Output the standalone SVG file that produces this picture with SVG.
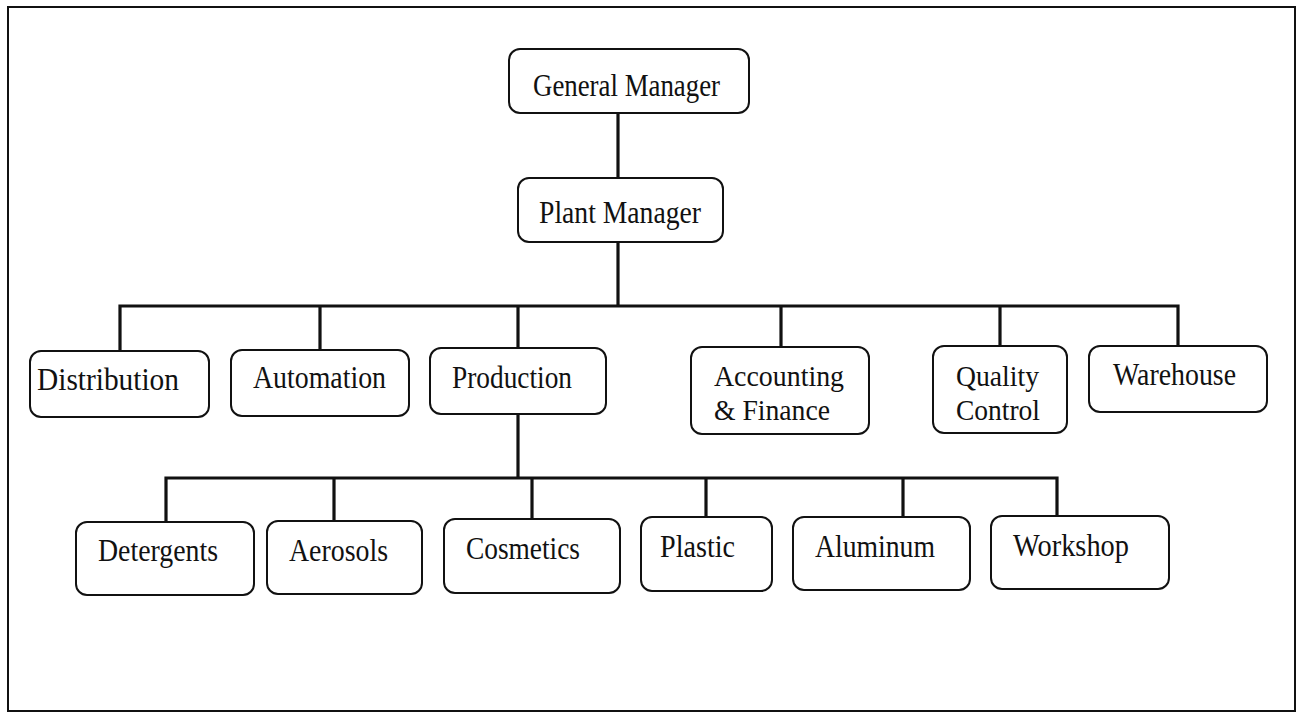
<svg xmlns="http://www.w3.org/2000/svg" width="1300" height="718" viewBox="0 0 1300 718">
<style>
.box{fill:#fff;stroke:#111;stroke-width:2}
.lbl{font-family:"Liberation Serif","Times New Roman",serif;font-size:32px;fill:#111}
.lbl2{font-family:"Liberation Serif","Times New Roman",serif;font-size:29px;fill:#111}
.con{fill:none;stroke:#111;stroke-width:3.2;stroke-linejoin:miter}
</style>
<rect x="0" y="0" width="1300" height="718" fill="#fff"/>
<rect x="8" y="7" width="1287" height="704" fill="none" stroke="#111" stroke-width="2"/>
<g id="connectors">
<path class="con" d="M618,113 V178"/>
<path class="con" d="M618,242 V306"/>
<path class="con" d="M120,351 V306 H1178 V346"/>
<path class="con" d="M320,306 V350"/>
<path class="con" d="M518,306 V348"/>
<path class="con" d="M781,306 V347"/>
<path class="con" d="M1000,306 V346"/>
<path class="con" d="M518,414 V478"/>
<path class="con" d="M166,522 V478 H1057 V516"/>
<path class="con" d="M334,478 V521"/>
<path class="con" d="M532,478 V519"/>
<path class="con" d="M706,478 V517"/>
<path class="con" d="M903,478 V517"/>
</g>
<g id="general-manager"><rect class="box" x="509" y="49" width="240" height="64" rx="11"/><text class="lbl" x="533" y="96" textLength="187" lengthAdjust="spacingAndGlyphs">General Manager</text></g>
<g id="plant-manager"><rect class="box" x="518" y="178" width="205" height="64" rx="11"/><text class="lbl" x="539" y="223" textLength="162" lengthAdjust="spacingAndGlyphs">Plant Manager</text></g>
<g id="distribution"><rect class="box" x="30" y="351" width="179" height="66" rx="11"/><text class="lbl" x="37" y="390" textLength="142" lengthAdjust="spacingAndGlyphs">Distribution</text></g>
<g id="automation"><rect class="box" x="231" y="350" width="178" height="66" rx="11"/><text class="lbl" x="253" y="388" textLength="133" lengthAdjust="spacingAndGlyphs">Automation</text></g>
<g id="production"><rect class="box" x="430" y="348" width="176" height="66" rx="11"/><text class="lbl" x="452" y="388" textLength="120" lengthAdjust="spacingAndGlyphs">Production</text></g>
<g id="accounting-finance"><rect class="box" x="691" y="347" width="178" height="87" rx="11"/><text class="lbl2" x="714" y="386" textLength="130" lengthAdjust="spacingAndGlyphs">Accounting</text><text class="lbl2" x="714" y="420" textLength="116" lengthAdjust="spacingAndGlyphs">&amp; Finance</text></g>
<g id="quality-control"><rect class="box" x="933" y="346" width="134" height="87" rx="11"/><text class="lbl2" x="956" y="386" textLength="83" lengthAdjust="spacingAndGlyphs">Quality</text><text class="lbl2" x="956" y="420" textLength="84" lengthAdjust="spacingAndGlyphs">Control</text></g>
<g id="warehouse"><rect class="box" x="1089" y="346" width="178" height="66" rx="11"/><text class="lbl" x="1113" y="385" textLength="123" lengthAdjust="spacingAndGlyphs">Warehouse</text></g>
<g id="detergents"><rect class="box" x="76" y="522" width="178" height="73" rx="11"/><text class="lbl" x="98" y="561" textLength="120" lengthAdjust="spacingAndGlyphs">Detergents</text></g>
<g id="aerosols"><rect class="box" x="267" y="521" width="155" height="73" rx="11"/><text class="lbl" x="289" y="561" textLength="99" lengthAdjust="spacingAndGlyphs">Aerosols</text></g>
<g id="cosmetics"><rect class="box" x="444" y="519" width="176" height="74" rx="11"/><text class="lbl" x="466" y="559" textLength="114" lengthAdjust="spacingAndGlyphs">Cosmetics</text></g>
<g id="plastic"><rect class="box" x="641" y="517" width="131" height="74" rx="11"/><text class="lbl" x="660" y="557" textLength="75" lengthAdjust="spacingAndGlyphs">Plastic</text></g>
<g id="aluminum"><rect class="box" x="793" y="517" width="177" height="73" rx="11"/><text class="lbl" x="815" y="557" textLength="120" lengthAdjust="spacingAndGlyphs">Aluminum</text></g>
<g id="workshop"><rect class="box" x="991" y="516" width="178" height="73" rx="11"/><text class="lbl" x="1013" y="556" textLength="116" lengthAdjust="spacingAndGlyphs">Workshop</text></g>
</svg>
